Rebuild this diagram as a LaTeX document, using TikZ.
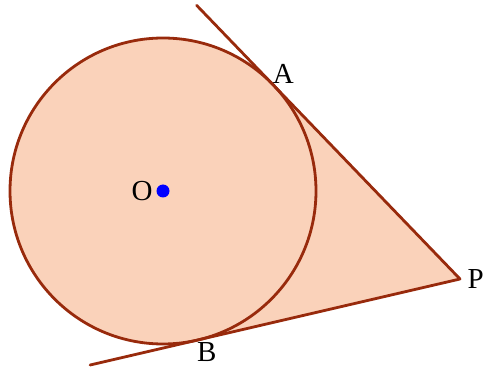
\documentclass[tikz,border=0pt]{standalone}
\usepackage{fontspec}
\setmainfont{Liberation Serif}
\usetikzlibrary{calc,positioning}
\definecolor{peach}{RGB}{250,210,186}
\definecolor{rust}{RGB}{152,42,12}
\begin{document}
\begin{tikzpicture}[x=1pt,y=1pt,line cap=round,line join=round,
  every node/.style={font=\fontsize{29}{31}\selectfont}]
  \useasboundingbox (0,0) rectangle (483,370);
  \coordinate (O) at (163,179);
  \coordinate (P) at (460,91);
  \node[circle,minimum size=306pt,inner sep=0pt,outer sep=0pt] (c) at (O) {};
  \coordinate (A) at (tangent cs:node=c,point={(P)},solution=1);
  \coordinate (B) at (tangent cs:node=c,point={(P)},solution=2);
  \coordinate (A1) at ($(P)!1.41!(A)$);
  \coordinate (B1) at ($(P)!1.41!(B)$);
  \fill[peach] (O) circle (153);
  \fill[peach] (O) -- (A) -- (P) -- (B) -- cycle;
  \draw[rust,line width=2.8pt] (O) circle (153);
  \draw[rust,line width=2.8pt] (A1) -- (P) -- (B1);
  \fill[blue] (O) circle (6.5);
  \node[left=7pt] (labO) at (O) {O};
  \node[above right=-2pt and -4pt] (labA) at (A) {A};
  \node[below right=-1pt and -4pt] (labB) at (B) {B};
  \node[right=4pt] (labP) at (P) {P};
\end{tikzpicture}
\end{document}
